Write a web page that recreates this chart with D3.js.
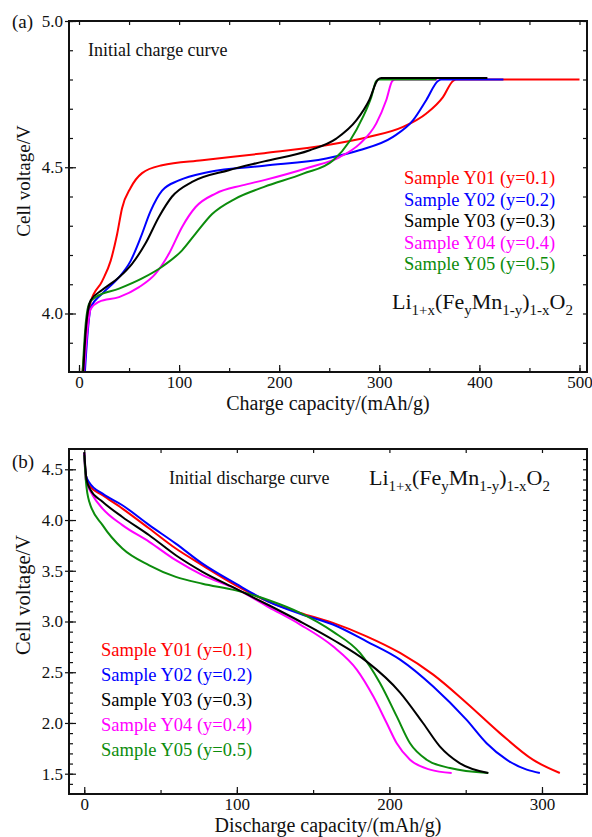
<!DOCTYPE html>
<html>
<head>
<meta charset="utf-8">
<script src="https://cdn.jsdelivr.net/npm/d3@7"></script>
<style>
  body { margin: 0; background: #fff; }
  svg { display: block; font-family: "Liberation Serif", "Times New Roman", serif; }
</style>
</head>
<body>
<script>
// sample names + colours
var samples = ["Sample Y01 (y=0.1)", "Sample Y02 (y=0.2)", "Sample Y03 (y=0.3)", "Sample Y04 (y=0.4)", "Sample Y05 (y=0.5)"];
var colors = ["#ff0000", "#0000ff", "#000000", "#ff00ff", "#0c8c0c"];

// initial charge curves, [capacity mAh/g, voltage V]
var chargeY01 = [[3, 3.78], [8.3, 3.966], [11.7, 4.04], [23, 4.11], [31.6, 4.18], [38, 4.27], [43, 4.36], [51.6, 4.43], [63, 4.48], [83, 4.507], [123, 4.524], [185, 4.548], [247, 4.575], [290, 4.604], [323.7, 4.638], [347, 4.684], [363.6, 4.74], [373.6, 4.795], [377, 4.8], [500, 4.8]];
var chargeY02 = [[5.5, 3.78], [8.3, 3.92], [11.7, 4.02], [23, 4.067], [40, 4.124], [51.6, 4.18], [61.6, 4.26], [71.5, 4.35], [83, 4.42], [99.8, 4.455], [129.7, 4.484], [185, 4.505], [247, 4.53], [280, 4.558], [313.7, 4.604], [333.6, 4.66], [347, 4.73], [358.6, 4.795], [362, 4.8], [424, 4.8]];
var chargeY03 = [[4, 3.78], [6.7, 3.94], [11.7, 4.045], [23, 4.08], [40, 4.124], [53, 4.17], [66.5, 4.24], [79.8, 4.33], [93, 4.40], [113, 4.45], [149.7, 4.49], [185, 4.52], [230.5, 4.558], [257, 4.598], [277, 4.66], [290, 4.73], [298.7, 4.8], [302, 4.805], [408, 4.805]];
var chargeY04 = [[4.5, 3.78], [8.3, 3.94], [11.7, 4.015], [20, 4.04], [40, 4.056], [60, 4.09], [76.5, 4.136], [89.8, 4.204], [103, 4.296], [116.5, 4.364], [136.4, 4.41], [163, 4.438], [185, 4.456], [230.5, 4.50], [260.5, 4.535], [280.4, 4.58], [297, 4.65], [307, 4.73], [313, 4.795], [316, 4.8], [358, 4.8]];
var chargeY05 = [[3.3, 3.78], [6.7, 3.966], [10, 4.033], [16.6, 4.056], [40, 4.085], [63, 4.12], [83, 4.16], [103, 4.216], [116.5, 4.273], [133, 4.34], [156.4, 4.393], [185, 4.433], [224, 4.478], [254, 4.524], [270.5, 4.59], [283.7, 4.672], [292, 4.74], [297, 4.795], [300, 4.8], [357, 4.8]];

// initial discharge curves
var dischargeY01 = [[0, 4.66], [1.1, 4.44], [3.3, 4.34], [12, 4.245], [25, 4.113], [42.6, 3.916], [60, 3.719], [77.5, 3.554], [99.3, 3.357], [121, 3.193], [141.5, 3.085], [163, 2.986], [185, 2.854], [207, 2.69], [228.7, 2.476], [250.6, 2.197], [272.4, 1.90], [294, 1.638], [311.7, 1.507]];
var dischargeY02 = [[0, 4.66], [1.1, 4.44], [3.3, 4.37], [12, 4.26], [25, 4.146], [42.6, 3.95], [60, 3.768], [77.5, 3.57], [99.3, 3.373], [121, 3.193], [141.5, 3.075], [163, 2.97], [185, 2.805], [207, 2.625], [228.7, 2.36], [250.6, 2.03], [263.7, 1.80], [276.8, 1.638], [290, 1.54], [298.6, 1.507]];
var dischargeY03 = [[0, 4.67], [1.5, 4.40], [4, 4.30], [12, 4.18], [25, 4.03], [42.6, 3.85], [60, 3.653], [77.5, 3.49], [99.3, 3.324], [121, 3.16], [141.5, 3.0], [163, 2.82], [185, 2.607], [207, 2.30], [222, 2.0], [233, 1.77], [246, 1.605], [264.8, 1.507]];
var dischargeY04 = [[0, 4.66], [1, 4.40], [5.5, 4.245], [12, 4.113], [25, 3.95], [42.6, 3.785], [60, 3.604], [77.5, 3.457], [99.3, 3.324], [121, 3.14], [141.5, 2.97], [163, 2.755], [178.6, 2.526], [189.5, 2.26], [198.2, 2.0], [204.8, 1.80], [213.5, 1.638], [226.6, 1.54], [240.8, 1.507]];
var dischargeY05 = [[0, 4.64], [1.1, 4.38], [3.3, 4.18], [12, 3.95], [25, 3.719], [42.6, 3.554], [60, 3.44], [77.5, 3.373], [99.3, 3.307], [121, 3.21], [141.5, 3.085], [163, 2.90], [180.7, 2.69], [193.8, 2.394], [204.8, 2.065], [213.5, 1.80], [224.4, 1.638], [239.7, 1.556], [264.8, 1.507]];

// ticks
var chargeXTicks = [0, 100, 200, 300, 400, 500];
var chargeYTicks = [4.0, 4.5, 5.0];
var dischargeXTicks = [0, 100, 200, 300];
var dischargeYTicks = [1.5, 2.0, 2.5, 3.0, 3.5, 4.0, 4.5];

const w = 592, h = 837;

var svg = d3.select("body").append("svg")
  .attr("width", w)
  .attr("height", h);

function formula(g, x, y, size) {
  var t = g.append("text").attr("x", x).attr("y", y).attr("font-size", size).attr("fill", "#111");
  var sub = size * 0.68;
  var parts = [["Li", 0], ["1+x", 1], ["(Fe", 0], ["y", 1], ["Mn", 0], ["1-y", 1], [")", 0], ["1-x", 1], ["O", 0], ["2", 1]];
  var low = false;
  parts.forEach(function (p) {
    var s = t.append("tspan").text(p[0]);
    if (p[1] && !low) { s.attr("dy", size * 0.28).attr("font-size", sub); low = true; }
    else if (p[1]) { s.attr("font-size", sub); }
    else if (low) { s.attr("dy", -size * 0.28); low = false; }
  });
}

function panel(cfg) {
  var g = svg.append("g");
  var x = d3.scaleLinear().domain(cfg.xdom).range([cfg.left, cfg.right]);
  var y = d3.scaleLinear().domain(cfg.ydom).range([cfg.bottom, cfg.top]);

  var clipId = "clip" + cfg.name;
  g.append("clipPath").attr("id", clipId).append("rect")
    .attr("x", cfg.left).attr("y", cfg.top)
    .attr("width", cfg.right - cfg.left).attr("height", cfg.bottom - cfg.top);

  var xMinor = d3.range(cfg.xMinor[0], cfg.xMinor[1] + 1e-9, cfg.xMinor[2]);
  var yMinor = d3.range(cfg.yMinor[0], cfg.yMinor[1] + 1e-9, cfg.yMinor[2]);

  // minor ticks, all four sides, pointing in
  g.append("g").attr("transform", "translate(0," + cfg.bottom + ")")
    .call(d3.axisBottom(x).tickValues(xMinor).tickSize(-4).tickFormat(""));
  g.append("g").attr("transform", "translate(0," + cfg.top + ")")
    .call(d3.axisTop(x).tickValues(xMinor).tickSize(-4).tickFormat(""));
  g.append("g").attr("transform", "translate(" + cfg.left + ",0)")
    .call(d3.axisLeft(y).tickValues(yMinor).tickSize(-4).tickFormat(""));
  g.append("g").attr("transform", "translate(" + cfg.right + ",0)")
    .call(d3.axisRight(y).tickValues(yMinor).tickSize(-4).tickFormat(""));

  // major ticks with labels
  var xa = g.append("g").attr("transform", "translate(0," + cfg.bottom + ")")
    .call(d3.axisBottom(x).tickValues(cfg.xTicks).tickSizeInner(-7).tickSizeOuter(0).tickPadding(4).tickFormat(d3.format("d")));
  var ya = g.append("g").attr("transform", "translate(" + cfg.left + ",0)")
    .call(d3.axisLeft(y).tickValues(cfg.yTicks).tickSizeInner(-7).tickSizeOuter(0).tickPadding(6).tickFormat(d3.format(".1f")));
  [xa, ya].forEach(function (a) {
    a.attr("font-family", null);
    a.selectAll("text").attr("font-size", 17).attr("fill", "#111");
  });
  ya.selectAll("line").attr("x1", -4);

  g.selectAll(".domain").remove();
  g.selectAll(".tick line").attr("stroke", "#111").attr("stroke-width", 1.2);

  // curves
  var line = d3.line().x(function (d) { return x(d[0]); }).y(function (d) { return y(d[1]); })
    .curve(d3.curveMonotoneX);
  var order = [0, 1, 3, 4, 2];
  g.append("g").attr("clip-path", "url(#" + clipId + ")")
    .selectAll("path").data(order).enter().append("path")
    .attr("d", function (i) { return line(cfg.series[i]); })
    .attr("fill", "none")
    .attr("stroke", function (i) { return colors[i]; })
    .attr("stroke-width", 2);

  // frame
  g.append("rect")
    .attr("x", cfg.left).attr("y", cfg.top)
    .attr("width", cfg.right - cfg.left).attr("height", cfg.bottom - cfg.top)
    .attr("fill", "none").attr("stroke", "#111").attr("stroke-width", 2);

  // labels
  g.append("text").attr("x", 12).attr("y", cfg.tagY).attr("font-size", 19).attr("fill", "#111").text(cfg.tag);
  g.append("text")
    .attr("transform", "translate(30," + cfg.yLabelMid + ") rotate(-90)")
    .attr("text-anchor", "middle").attr("font-size", cfg.yLabelSize).attr("fill", "#111")
    .text("Cell voltage/V");
  g.append("text")
    .attr("x", (cfg.left + cfg.right) / 2).attr("y", cfg.xLabelY)
    .attr("text-anchor", "middle").attr("font-size", 20).attr("fill", "#111")
    .text(cfg.xLabel);
  g.append("text").attr("x", cfg.titleX).attr("y", cfg.titleY)
    .attr("font-size", 18).attr("fill", "#111").text(cfg.title);

  // legend
  g.selectAll(".leg").data(samples).enter().append("text")
    .attr("class", "leg")
    .attr("x", cfg.legX)
    .attr("y", function (d, i) { return cfg.legY + i * cfg.legStep; })
    .attr("font-size", 18.5)
    .attr("fill", function (d, i) { return colors[i]; })
    .text(function (d) { return d; });

  formula(g, cfg.fX, cfg.fY, 22);
}

panel({
  name: "a", tag: "(a)", tagY: 28,
  left: 69, right: 587, top: 21, bottom: 372,
  xdom: [-10, 507.5], ydom: [3.8, 5.0],
  xTicks: chargeXTicks, yTicks: chargeYTicks,
  xMinor: [0, 500, 50], yMinor: [3.9, 5.0, 0.1],
  series: [chargeY01, chargeY02, chargeY03, chargeY04, chargeY05],
  xLabel: "Charge capacity/(mAh/g)", xLabelY: 410,
  yLabelMid: 181, yLabelSize: 19,
  title: "Initial charge curve", titleX: 88, titleY: 56,
  legX: 404, legY: 184, legStep: 21.5,
  fX: 392, fY: 309
});

panel({
  name: "b", tag: "(b)", tagY: 468,
  left: 69, right: 587, top: 449, bottom: 794,
  xdom: [-10, 329.5], ydom: [1.3, 4.7],
  xTicks: dischargeXTicks, yTicks: dischargeYTicks,
  xMinor: [0, 300, 50], yMinor: [1.4, 4.6, 0.1],
  series: [dischargeY01, dischargeY02, dischargeY03, dischargeY04, dischargeY05],
  xLabel: "Discharge capacity/(mAh/g)", xLabelY: 832,
  yLabelMid: 595, yLabelSize: 20.5,
  title: "Initial discharge curve", titleX: 169, titleY: 484,
  legX: 101, legY: 656, legStep: 25,
  fX: 369, fY: 485
});
</script>
</body>
</html>
